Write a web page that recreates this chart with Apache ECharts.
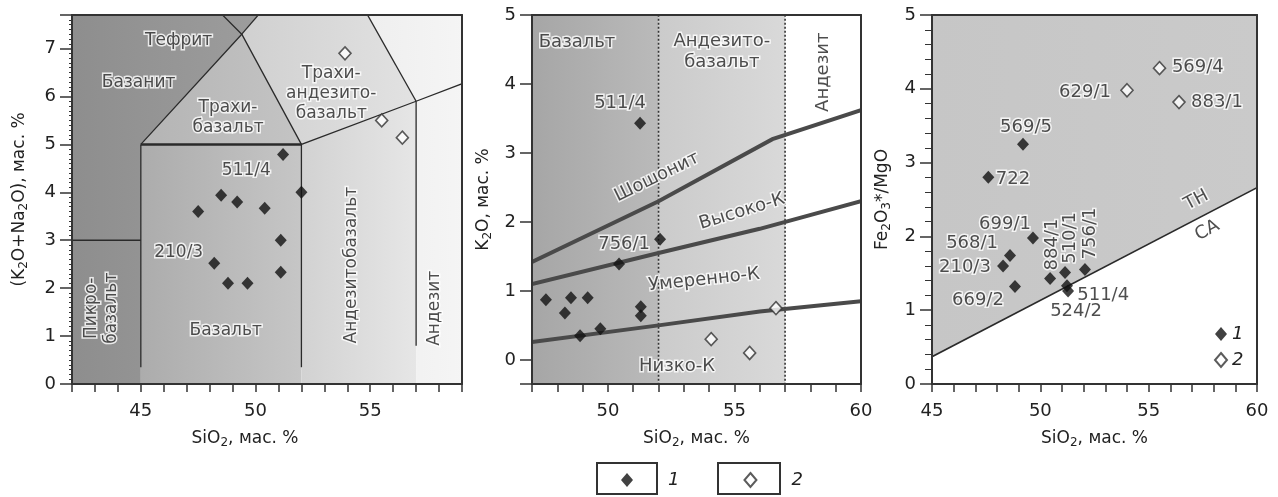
<!DOCTYPE html>
<html>
<head>
<meta charset="utf-8">
<script src="https://cdn.jsdelivr.net/npm/echarts@6/dist/echarts.min.js"></script>
<style>
  html, body { margin: 0; padding: 0; background: #fff; }
  #chart { width: 1278px; height: 497px; }
</style>
</head>
<body>
<div id="chart"></div>
<script>
const FONT = '"DejaVu Sans", sans-serif';
const INK = '#222';
const AXIS = '#333';

// ---------- panel 1: TAS (SiO2 vs K2O+Na2O)
const tasFilledSi  = [51.2, 52.0, 48.5, 49.2, 47.5, 50.4, 51.1, 48.2, 48.8, 49.65, 51.1];
const tasFilledAlk = [4.79, 4.0, 3.94, 3.8, 3.6, 3.67, 3.0, 2.52, 2.1, 2.1, 2.33];
const tasOpenSi  = [53.9, 55.5, 56.4];
const tasOpenAlk = [6.9, 5.5, 5.14];

// [colour left, colour right, vertices]
const tasRegions = [
  ['#8a8a8a', '#a2a2a2', [[40, 0], [45, 0], [45, 5], [49.4, 7.3], [53, 9.3], [40, 9.3]]],
  ['#acacac', '#c6c6c6', [[45, 0], [52, 0], [52, 5], [45, 5]]],
  ['#b4b4b4', '#c4c4c4', [[45, 5], [49.4, 7.3], [52, 5]]],
  ['#d2d2d2', '#e6e6e6', [[52, 0], [57, 0], [57, 5.9], [52, 5]]],
  ['#d0d0d0', '#e2e2e2', [[52, 5], [57, 5.9], [53, 9.3], [49.4, 7.3]]],
  ['#ececec', '#f6f6f6', [[57, 0], [60, 0], [60, 9.3], [53, 9.3], [57, 5.9]]]
];
const tasLines = [
  [[41, 3], [45, 3]],
  [[45, 0.35], [45, 5]],
  [[52, 0.35], [52, 5]],
  [[57, 0.8], [57, 5.9]],
  [[45, 5], [49.4, 7.3], [45, 9.4]],
  [[49.4, 7.3], [53, 9.3]],
  [[49.4, 7.3], [52, 5], [57, 5.9], [63, 7]],
  [[57, 5.9], [53, 9.3]]
];
const tasBold = [[[45, 5], [52, 5]]];
// [text, x, y, rotation]
const tasTexts = [
  ['Тефрит', 46.65, 7.17, 0],
  ['Базанит', 44.9, 6.3, 0],
  ['Трахи-\nбазальт', 48.8, 5.55, 0],
  ['Трахи-\nандезито-\nбазальт', 53.3, 6.06, 0],
  ['Андезитобазальт', 54.2, 2.48, 90],
  ['Андезит', 57.8, 1.58, 90],
  ['Пикро-\nбазальт', 43.3, 1.58, 90],
  ['Базальт', 48.7, 1.12, 0],
  ['511/4', 49.6, 4.46, 0],
  ['210/3', 46.65, 2.75, 0]
];

// ---------- panel 2: SiO2 vs K2O
const kFilledSi = [51.27, 52.06, 50.44, 47.55, 48.54, 49.2, 48.3, 51.3, 51.3, 49.7, 48.9];
const kFilledK  = [3.43, 1.75, 1.39, 0.87, 0.9, 0.9, 0.68, 0.77, 0.64, 0.45, 0.35];
const kOpenSi = [56.64, 54.08, 55.6];
const kOpenK  = [0.75, 0.30, 0.10];

const kRegions = [
  ['#a6a6a6', '#bababa', [[47, -1], [52, -1], [52, 6], [47, 6]]],
  ['#cbcbcb', '#d9d9d9', [[52, -1], [57, -1], [57, 6], [52, 6]]]
];
const kSeriesLines = [
  [[47, 1.42], [52, 2.3], [56.5, 3.2], [60, 3.62]],
  [[47, 1.1], [52, 1.55], [56, 1.9], [60, 2.3]],
  [[47, 0.26], [52, 0.5], [56, 0.7], [60, 0.85]]
];
const kDotted = [
  [[52, -1], [52, 6]],
  [[57, -1], [57, 6]]
];
const kTexts = [
  ['Базальт', 48.78, 4.6, 0],
  ['Андезито-\nбазальт', 54.5, 4.46, 0],
  ['Андезит', 58.5, 4.17, 90],
  ['Шошонит', 51.94, 2.65, 26],
  ['Высоко-К', 55.3, 2.15, 17],
  ['Умеренно-К', 53.8, 1.16, 6],
  ['Низко-К', 52.73, -0.1, 0],
  ['511/4', 50.48, 3.72, 0],
  ['756/1', 50.64, 1.67, 0]
];

// ---------- panel 3: SiO2 vs Fe2O3*/MgO
const feFilledSi = [49.2, 47.6, 49.66, 48.6, 48.28, 48.83, 50.45, 51.14, 52.06, 51.23, 51.28];
const feFilledR  = [3.25, 2.8, 1.98, 1.74, 1.6, 1.32, 1.43, 1.51, 1.55, 1.33, 1.26];
const feOpenSi = [55.5, 54.0, 56.4];
const feOpenR  = [4.28, 3.98, 3.82];

const feRegions = [
  ['#c6c6c6', '#cacaca', [[45, 0.37], [60, 2.66], [60, 5], [45, 5]]]
];
const feLines = [[[45, 0.37], [60, 2.66]]];
const feTexts = [
  ['569/4', 57.27, 4.29, 0],
  ['629/1', 52.06, 3.95, 0],
  ['883/1', 58.15, 3.82, 0],
  ['569/5', 49.34, 3.48, 0],
  ['722', 48.74, 2.78, 0],
  ['699/1', 48.37, 2.17, 0],
  ['568/1', 46.85, 1.9, 0],
  ['210/3', 46.52, 1.58, 0],
  ['669/2', 47.12, 1.13, 0],
  ['884/1', 50.54, 1.89, 90],
  ['510/1', 51.37, 1.98, 90],
  ['756/1', 52.29, 2.04, 90],
  ['511/4', 52.9, 1.2, 0],
  ['524/2', 51.65, 0.99, 0],
  ['TH', 57.2, 2.49, 28],
  ['CA', 57.7, 2.08, 28]
];

const sub = {
  s: { fontSize: 12, fontFamily: FONT, color: INK, padding: [9, 0, 0, 0] }
};

function zip(a, b) { return a.map((v, i) => [v, b[i]]); }

function polySeries(axis, regions) {
  return {
    type: 'custom', xAxisIndex: axis, yAxisIndex: axis, clip: true, z: 1, silent: true,
    data: regions.map((r, i) => [i]),
    renderItem: function (params, api) {
      const r = regions[params.dataIndex];
      return {
        type: 'polygon',
        shape: { points: r[2].map(p => api.coord(p)) },
        style: { fill: new echarts.graphic.LinearGradient(0, 0, 1, 0, [
          { offset: 0, color: r[0] }, { offset: 1, color: r[1] }]) }
      };
    }
  };
}

function lineSeries(axis, lines, color, width, dash) {
  return {
    type: 'custom', xAxisIndex: axis, yAxisIndex: axis, clip: true, z: 2, silent: true,
    data: lines.map((l, i) => [i]),
    renderItem: function (params, api) {
      return {
        type: 'polyline',
        shape: { points: lines[params.dataIndex].map(p => api.coord(p)) },
        style: { fill: null, stroke: color, lineWidth: width, lineDash: dash || null }
      };
    }
  };
}

function textSeries(axis, texts, size) {
  return {
    type: 'scatter', xAxisIndex: axis, yAxisIndex: axis, z: 3, silent: true,
    symbolSize: 1, itemStyle: { color: 'rgba(0,0,0,0)' },
    data: texts.map(t => ({ name: t[0], value: [t[1], t[2]], label: { rotate: t[3] } })),
    label: {
      show: true, position: 'inside', formatter: '{b}',
      fontFamily: FONT, fontSize: size, color: INK, lineHeight: size + 3,
      textBorderColor: '#fff', textBorderWidth: 3
    }
  };
}

function pointSeries(axis, name, pts, open) {
  return {
    type: 'scatter', name: name, xAxisIndex: axis, yAxisIndex: axis, z: 5,
    symbol: 'diamond', symbolSize: open ? [12, 13] : [12, 13],
    itemStyle: open ? { color: '#fff', borderColor: '#333', borderWidth: 1.6 } : { color: '#111' },
    data: pts
  };
}

function xBottom(grid, min, max, namePad) {
  return {
    type: 'value', gridIndex: grid, min: min, max: max, interval: 1, position: 'bottom', z: 6,
    name: 'SiO{s|2}, мас. %', nameLocation: 'middle', nameGap: 44,
    nameTextStyle: { fontFamily: FONT, fontSize: 17, color: INK, padding: namePad, rich: sub },
    axisLine: { onZero: false, lineStyle: { color: AXIS, width: 2 } },
    axisTick: { length: 8, lineStyle: { color: AXIS, width: 1.5 } },
    axisLabel: { interval: 0, margin: 18, fontFamily: FONT, fontSize: 18, color: INK,
      formatter: v => (v % 5 === 0 ? String(v) : '') },
    splitLine: { show: false }
  };
}
function yLeft(grid, min, max, interval, name, gap, minor) {
  const ax = {
    type: 'value', gridIndex: grid, min: min, max: max, position: 'left', z: 6,
    name: name, nameLocation: 'middle', nameGap: gap, nameRotate: 90,
    nameTextStyle: { fontFamily: FONT, fontSize: 17, color: INK, rich: sub },
    axisLine: { onZero: false, lineStyle: { color: AXIS, width: 2 } },
    axisTick: { length: 12, lineStyle: { color: AXIS, width: 1.5 } },
    axisLabel: { margin: 16, fontFamily: FONT, fontSize: 18, color: INK,
      formatter: v => (Number.isInteger(Math.round(v * 1000) / 1000) ? String(v) : '') },
    splitLine: { show: false }
  };
  if (interval) ax.interval = interval;
  if (minor) {
    ax.minorTick = { show: true, splitNumber: minor[0], length: minor[1], lineStyle: { color: AXIS, width: 1 } };
  }
  return ax;
}
function frame(grid, min, max, pos) {
  return {
    type: 'value', gridIndex: grid, min: min, max: max, position: pos, z: 6,
    axisLine: { show: true, onZero: false, lineStyle: { color: AXIS, width: 2 } },
    axisTick: { show: false }, axisLabel: { show: false }, splitLine: { show: false }
  };
}

const chart = echarts.init(document.getElementById('chart'));
chart.setOption({
  animation: false,
  backgroundColor: '#fff',
  grid: [
    { left: 72, top: 15, width: 390, height: 369 },
    { left: 532, top: 15, width: 329, height: 369 },
    { left: 932, top: 15, width: 325, height: 369 }
  ],
  xAxis: [
    xBottom(0, 42, 59, [0, 44, 0, 0]),
    xBottom(1, 47, 60, [0, 0, 0, 0]),
    xBottom(2, 45, 60, [0, 0, 0, 0]),
    frame(0, 42, 59, 'top'),
    frame(1, 47, 60, 'top'),
    frame(2, 45, 60, 'top')
  ],
  yAxis: [
    yLeft(0, 0, 7.7, 1, '(K{s|2}O+Na{s|2}O), мас. %', 42, [10, 3]),
    yLeft(1, -0.35, 5, null, 'K{s|2}O, мас. %', 38, null),
    yLeft(2, 0, 5, 1, 'Fe{s|2}O{s|3}*/MgO', 39, [5, 7]),
    frame(0, 0, 7.7, 'right'),
    frame(1, -0.35, 5, 'right'),
    frame(2, 0, 5, 'right')
  ],
  legend: [
    {
      data: ['1', '2'], orient: 'vertical', left: 1214, top: 325, itemGap: 8, padding: 0,
      itemWidth: 12, itemHeight: 14, selectedMode: false,
      formatter: n => '{a|' + n + '}',
      textStyle: { rich: { a: { fontFamily: FONT, fontSize: 18, fontStyle: 'italic', color: INK, lineHeight: 20 } } }
    },
    {
      data: ['1', '2'], orient: 'horizontal', left: 621, top: 471, itemGap: 64, padding: 0,
      itemWidth: 12, itemHeight: 14, selectedMode: false,
      formatter: n => '{a|' + n + '}',
      textStyle: { rich: { a: { fontFamily: FONT, fontSize: 18, fontStyle: 'italic', color: INK, padding: [0, 0, 0, 30] } } }
    }
  ],
  graphic: [
    { type: 'rect', shape: { x: 597, y: 463, width: 60, height: 31 }, style: { fill: null, stroke: '#333', lineWidth: 2 } },
    { type: 'rect', shape: { x: 718, y: 463, width: 62, height: 31 }, style: { fill: null, stroke: '#333', lineWidth: 2 } }
  ],
  series: [
    polySeries(0, tasRegions),
    lineSeries(0, tasLines, '#2a2a2a', 1.3),
    lineSeries(0, tasBold, '#2a2a2a', 2.5),
    textSeries(0, tasTexts, 17),
    pointSeries(0, '1', zip(tasFilledSi, tasFilledAlk), false),
    pointSeries(0, '2', zip(tasOpenSi, tasOpenAlk), true),

    polySeries(1, kRegions),
    lineSeries(1, kDotted, '#333', 1.6, [2, 2]),
    lineSeries(1, kSeriesLines, '#4a4a4a', 4),
    textSeries(1, kTexts, 18),
    pointSeries(1, '1', zip(kFilledSi, kFilledK), false),
    pointSeries(1, '2', zip(kOpenSi, kOpenK), true),

    polySeries(2, feRegions),
    lineSeries(2, feLines, '#2a2a2a', 1.6),
    textSeries(2, feTexts, 18),
    pointSeries(2, '1', zip(feFilledSi, feFilledR), false),
    pointSeries(2, '2', zip(feOpenSi, feOpenR), true)
  ]
});
</script>
</body>
</html>
